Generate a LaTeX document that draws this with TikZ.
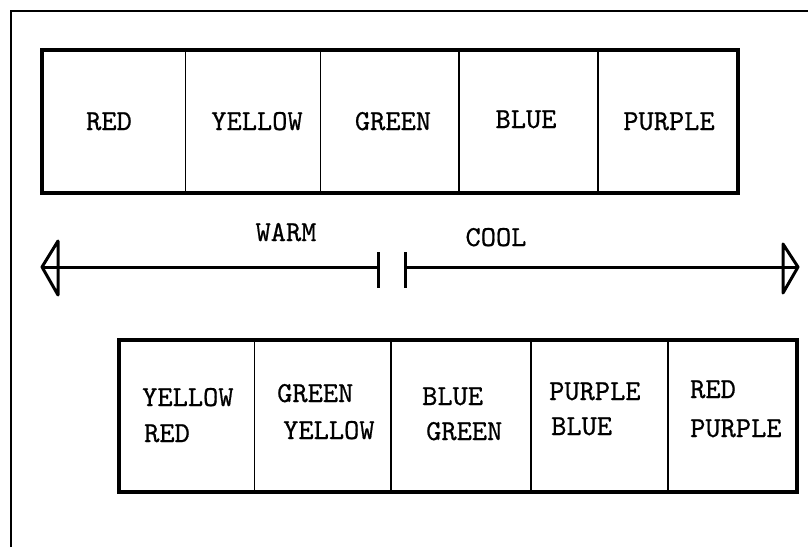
\documentclass[tikz,border=0pt]{standalone}
\usepackage{fontspec}
\newfontfamily\typewriter{lmmono10-regular.otf}[FakeBold=0.6]
\begin{document}
\begin{tikzpicture}[x=1pt,y=-1pt,
  cell/.style={draw, line width=1.8pt, inner sep=0pt, outer sep=0pt},
  topcell/.style={cell, minimum height=143pt},
  botcell/.style={cell, minimum height=152pt},
  frameline/.style={line width=3.4pt},
  lbl/.style={font=\fontsize{29}{34}\selectfont\typewriter, inner sep=0pt},
  axis/.style={line width=3pt},
  head/.style={line width=3pt, line join=round}]
\fill[white] (0,0) rectangle (808,547);
\useasboundingbox (0,0) rectangle (808,547);
% outer frame (top and left sides only)
\coordinate (fbl) at (11,547);
\coordinate (ftl) at (11,11);
\coordinate (ftr) at (808,11);
\draw[line width=1.8pt] (fbl) -- (ftl) -- (ftr);
% top row
\node[topcell, minimum width=143.5pt] (t1) at (113.75,121.5) {};
\node[topcell, minimum width=135pt] (t2) at (253,121.5) {};
\node[topcell, minimum width=138.5pt] (t3) at (389.75,121.5) {};
\node[topcell, minimum width=139pt] (t4) at (528.5,121.5) {};
\node[topcell, minimum width=140pt] (t5) at (668,121.5) {};
\draw[frameline] (t1.north west) rectangle (t5.south east);
\node[lbl, anchor=base] (lt1) at (109,130) {RED};
\node[lbl, anchor=base] (lt2) at (257,130) {YELLOW};
\node[lbl, anchor=base] (lt3) at (393,130) {GREEN};
\node[lbl, anchor=base] (lt4) at (526,128) {BLUE};
\node[lbl, anchor=base] (lt5) at (669,130) {PURPLE};
% warm / cool axis
\node[lbl, anchor=base] (warm) at (286,241) {WARM};
\node[lbl, anchor=base] (cool) at (496,246) {COOL};
\coordinate (ltip) at (42,267);
\coordinate (lbt) at (58,241);
\coordinate (lbb) at (58,295);
\coordinate (wend) at (378,267);
\coordinate (wtt) at (378,252);
\coordinate (wtb) at (378,288);
\coordinate (cstart) at (405,267);
\coordinate (ctt) at (405,252);
\coordinate (ctb) at (405,288);
\coordinate (rtip) at (798,267);
\coordinate (rbt) at (783,244);
\coordinate (rbb) at (783,293);
\draw[axis] (ltip) -- (wend);
\draw[head] (ltip) -- (lbt) -- (lbb) -- cycle;
\draw[axis] (wtt) -- (wtb);
\draw[axis] (ctt) -- (ctb);
\draw[axis] (cstart) -- (rtip);
\draw[head] (rtip) -- (rbt) -- (rbb) -- cycle;
% bottom row
\node[botcell, minimum width=135.5pt] (b1) at (186.75,416) {};
\node[botcell, minimum width=136.5pt] (b2) at (322.75,416) {};
\node[botcell, minimum width=140pt] (b3) at (461,416) {};
\node[botcell, minimum width=137pt] (b4) at (599.5,416) {};
\node[botcell, minimum width=129pt] (b5) at (732.5,416) {};
\draw[frameline] (b1.north west) rectangle (b5.south east);
\node[lbl, anchor=base west] (lb1a) at (142,406) {YELLOW};
\node[lbl, anchor=base west] (lb1b) at (144,442) {RED};
\node[lbl, anchor=base west] (lb2a) at (277,402) {GREEN};
\node[lbl, anchor=base west] (lb2b) at (283,439) {YELLOW};
\node[lbl, anchor=base west] (lb3a) at (422,405) {BLUE};
\node[lbl, anchor=base west] (lb3b) at (426,440) {GREEN};
\node[lbl, anchor=base west] (lb4a) at (549,400) {PURPLE};
\node[lbl, anchor=base west] (lb4b) at (551,435) {BLUE};
\node[lbl, anchor=base west] (lb5a) at (690,398) {RED};
\node[lbl, anchor=base west] (lb5b) at (690,437) {PURPLE};
\end{tikzpicture}
\end{document}
